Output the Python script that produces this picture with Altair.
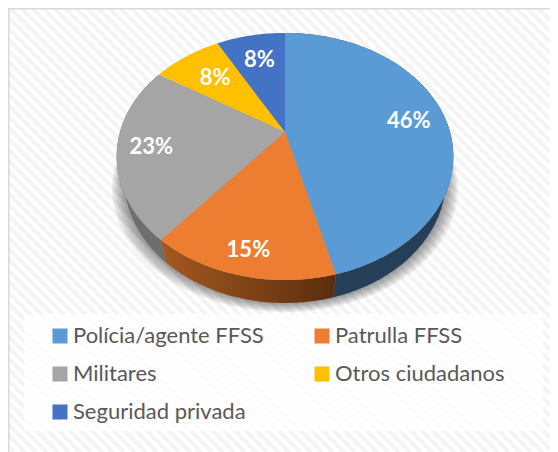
import math
import altair as alt

categories = ["Polícia/agente FFSS", "Patrulla FFSS", "Militares", "Otros ciudadanos", "Seguridad privada"]
shares = [46, 15, 23, 8, 8]
labels = ["46%", "15%", "23%", "8%", "8%"]
colors = ["#5B9BD5", "#ED7D31", "#A5A5A5", "#FFC000", "#4472C4"]
label_reach = [0.77, 0.85, 0.80, 0.68, 0.71]

W, H = 542, 444
APEX = (277.0, 124.0)
A, B, K = 165.0, 118.7, 0.198
DEPTH, SHRINK = 23.0, 0.955


def persp(theta, r=1.0):
    u = r * math.sin(theta)
    v = -r * math.cos(theta)
    d = 1 - K * v
    return (A * u / d, B * v / d)


def top(theta, r=1.0):
    x, y = persp(theta, r)
    return [APEX[0] + x, APEX[1] + y]


def low(theta, shift=DEPTH, sx=SHRINK):
    x, y = persp(theta)
    return [APEX[0] + x * sx, APEX[1] + y + shift]


def feature(coords, geom="Polygon", **props):
    if geom == "Polygon":
        coords = [coords + [coords[0]]]
    return {"type": "Feature", "properties": props,
            "geometry": {"type": geom, "coordinates": coords}}


edges = [0.0]
for s in shares:
    edges.append(edges[-1] + s / sum(shares) * 2 * math.pi)


def arc_angles(a, b):
    n = max(2, int((b - a) / math.radians(1.0)))
    return [a + (b - a) * i / n for i in range(n + 1)]


slices = []
walls = {}
text_rows = []
for i, name in enumerate(categories):
    a, b = edges[i], edges[i + 1]
    ts = arc_angles(a, b)
    slices.append(feature([list(APEX)] + [top(t) for t in ts], name=name))
    walls[name] = [feature([top(t) for t in ts] + [low(t) for t in reversed(ts)], name=name)]
    p = top((a + b) / 2, label_reach[i])
    text_rows.append({"lon": p[0], "lat": p[1], "label": labels[i]})

full = arc_angles(0, 2 * math.pi)
shadow_rings = [feature([low(t, DEPTH + 1.5 * j, SHRINK + 0.012 * j) for t in full[:-1]]) for j in range(1, 7)]


def stripe(c):
    y0, y1 = max(0, -c), min(H, W - c)
    return feature([[c + y0, y0], [c + y1, y1]], geom="LineString")


stripes = [stripe(c) for c in range(-H + 6, W - 6, 11)]
border = [feature([[0, H], [0, 0], [W, 0]], geom="LineString")]
legend_box = [feature([[16, 306], [535, 306], [535, 423], [16, 423]])]


def layer(features, **mark):
    return alt.Chart(alt.Data(values=features)).mark_geoshape(**mark).project(
        type="identity", scale=1, translate=[0, 0])


def shade(left, right):
    return alt.Gradient(gradient="linear", x1=0, y1=0, x2=1, y2=0,
                        stops=[alt.GradientStop(color=left, offset=0),
                               alt.GradientStop(color=right, offset=1)])


tops = layer(slices).encode(
    color=alt.Color("properties.name:N",
                    scale=alt.Scale(domain=categories, range=colors),
                    sort=categories,
                    legend=alt.Legend(title=None, orient="none", legendX=41, legendY=317,
                                      direction="horizontal",
                                      columns=2, symbolType="square", symbolSize=225,
                                      symbolStrokeWidth=0, symbolOpacity=1,
                                      labelFont="Lato", labelFontSize=22, labelColor="#595959",
                                      labelOffset=2, columnPadding=47, rowPadding=16,
                                      labelLimit=300, padding=0))
)

texts = alt.Chart(alt.Data(values=text_rows)).mark_text(
    font="Lato", fontWeight="bold", fontSize=22, color="white", baseline="middle", align="center"
).encode(longitude="lon:Q", latitude="lat:Q", text="label:N").project(
    type="identity", scale=1, translate=[0, 0])

chart = alt.layer(
    layer(stripes, filled=False, stroke="#f4f4f4", strokeWidth=4),
    layer(border, filled=False, stroke="#d9d9d9", strokeWidth=3),
    layer(legend_box, fill="white", fillOpacity=0.7),
    layer(shadow_rings, fill="black", fillOpacity=0.07),
    layer(walls["Militares"], fill="#6E6E6E"),
    layer(walls["Polícia/agente FFSS"], fill="#243F57"),
    layer(walls["Patrulla FFSS"], fill=shade("#A5581F", "#5A2E0E")),
    tops,
    texts,
).properties(
    width=W, height=H, padding=0, autosize=alt.AutoSizeParams(type="none"), background="white"
).configure_view(stroke=None)

chart.save("out.html", embed_options={"renderer": "svg", "actions": False})
